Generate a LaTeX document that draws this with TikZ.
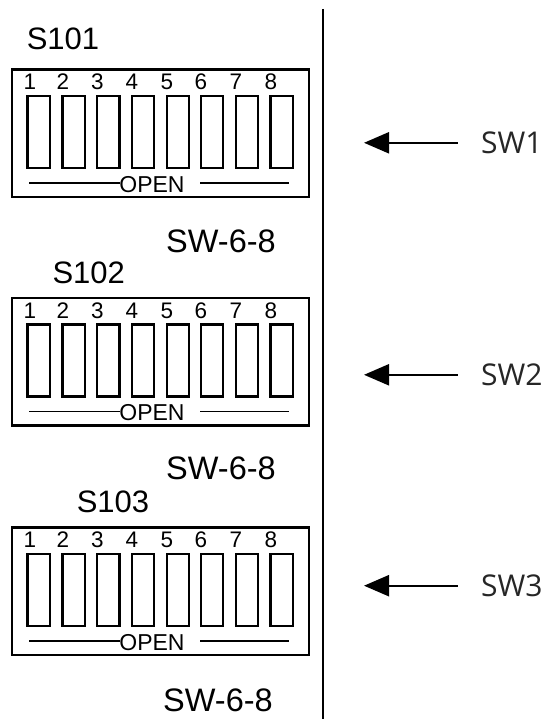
\documentclass[tikz,border=0pt]{standalone}
\usepackage{fontspec}
\setmainfont{Liberation Sans}
\newfontfamily\thinfont{Open Sans}
\usetikzlibrary{arrows.meta}
\tikzset{
  boxline/.style={draw=black,line width=2.4pt,inner sep=0pt,minimum width=297pt,minimum height=127.5pt},
  swbox/.style={draw=black,line width=2.3pt,inner sep=0pt,minimum height=72pt},
  digit/.style={inner sep=0pt,font=\fontsize{22.5}{23}\selectfont,anchor=center},
  openlbl/.style={inner sep=0pt,font=\fontsize{23}{23}\selectfont,anchor=center},
  namelbl/.style={inner sep=0pt,font=\fontsize{31}{31}\selectfont,anchor=center},
  modellbl/.style={inner sep=0pt,font=\fontsize{32.5}{33}\selectfont,anchor=center},
  swlbl/.style={inner sep=0pt,font=\thinfont\fontsize{30}{30}\selectfont,anchor=west,text=black!85},
  openline/.style={draw=black,line width=1.8pt},
  divider/.style={draw=black,line width=2.4pt},
  pointer/.style={draw=black,line width=2.2pt,-{Triangle[length=25pt,width=21pt]}},
}
\begin{document}
\begin{tikzpicture}[x=1pt,y=-1pt]
\useasboundingbox (0,0) rectangle (548,719);
\coordinate (divtop) at (323,9);
\coordinate (divbot) at (323,719);
\draw[divider] (divtop) -- (divbot);
\foreach \n/\dy/\sname/\sx/\sy/\swx/\swy/\ay in {1/0/S101/63/39/221/241/142.8, 2/228.5/S102/88.7/273/221/468/374.8, 3/458/S103/113/502/218/700/585.7}{
  \begin{scope}[shift={(0,\dy)}]
    \node[boxline] (box\n) at (160.5,133.25) {};
    \foreach \i/\xa/\xb/\xd in {1/27.5/50/30,2/62.5/85/63,3/97/119.5/97.5,4/132/154/132,5/167/189/167,6/201/223/201,7/236/258/236,8/270.5/293/271}{
      \pgfmathsetmacro{\swwidth}{\xb-\xa}
      \node[swbox,minimum width=\swwidth pt] (sw\n-\i) at ({(\xa+\xb)/2},132) {};
      \node[digit] (d\n-\i) at (\xd,82) {\i};
    }
    \node[openlbl] (open\n) at (152,184.3) {OPEN};
    \coordinate (la\n) at (29,183);
    \coordinate (lb\n) at (120,183);
    \coordinate (lc\n) at (200,183);
    \coordinate (ld\n) at (289,183);
    \draw[openline] (la\n) -- (lb\n);
    \draw[openline] (lc\n) -- (ld\n);
  \end{scope}
  \node[namelbl] (name\n) at (\sx,\sy) {\sname};
  \node[modellbl] (model\n) at (\swx,\swy) {SW-6-8};
  \coordinate (tail\n) at (457.5,\ay);
  \coordinate (head\n) at (364,\ay);
  \draw[pointer] (tail\n) -- (head\n);
  \node[swlbl] (lbl\n) at (481,\ay) {SW\n};
}
\end{tikzpicture}
\end{document}
